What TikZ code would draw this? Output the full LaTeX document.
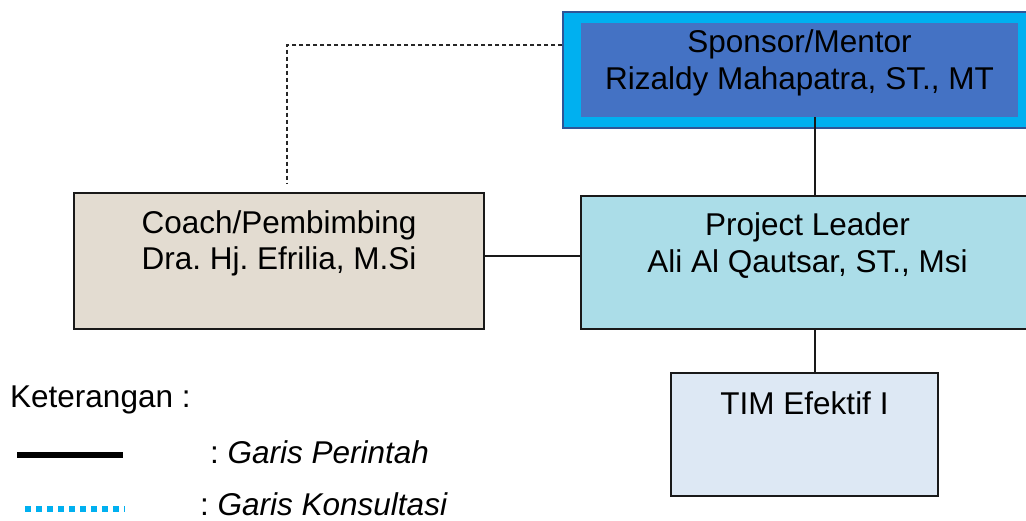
\documentclass[tikz,border=0pt]{standalone}
\usepackage{fontspec}
\setmainfont{Liberation Sans}
\usepackage{xcolor}
\usetikzlibrary{positioning}
\frenchspacing

\definecolor{sponsorcyan}{HTML}{00B0F0}
\definecolor{sponsorblue}{HTML}{4472C4}
\definecolor{sponsorline}{HTML}{2F5597}
\definecolor{coachfill}{HTML}{E3DCD1}
\definecolor{leadfill}{HTML}{ABDDE8}
\definecolor{timfill}{HTML}{DDE8F4}

\tikzset{
    orgbox/.style={rectangle,draw=black!90,line width=2pt,inner sep=0pt},
    boxtext/.style={anchor=north,inner sep=0pt,align=center},
    cmdline/.style={draw=black!90,line width=1.6pt},
    consultline/.style={draw=black!85,line width=1.3pt,dash pattern=on 4pt off 3pt},
    legendtext/.style={anchor=base west,inner sep=0pt}
}

\begin{document}
\begin{tikzpicture}[x=1pt,y=-1pt,font=\fontsize{31.5}{36.5}\selectfont]
            \useasboundingbox (0,0) rectangle (1026,521);
            \node[rectangle,fill=sponsorcyan,draw=sponsorline,line width=1.5pt,minimum width=473pt,minimum height=116pt] (sponsor) at (799.5,70) {};
            \node[rectangle,fill=sponsorblue,minimum width=437pt,minimum height=94pt,
                label={[boxtext,yshift=-7pt]north:Sponsor/Mentor\\Rizaldy Mahapatra, ST., MT}] (mentor) at (799.5,70) {};
            \node[orgbox,fill=coachfill,minimum width=410pt,minimum height=136pt,
                label={[boxtext,yshift=-18pt]north:Coach/Pembimbing\\Dra. Hj. Efrilia, M.Si}] (coach) at (279,261) {};
            \node[orgbox,fill=leadfill,minimum width=453pt,minimum height=132.5pt,
                label={[boxtext,yshift=-17pt]north:Project Leader\\Ali Al Qautsar, ST., Msi}] (lead) at (807.5,262.75) {};
            \node[orgbox,fill=timfill,minimum width=267pt,minimum height=122pt,
                label={[boxtext,yshift=-19pt]north:TIM Efektif I}] (tim) at (804.5,434.5) {};
            \coordinate (spine) at (815,0);
            \coordinate (bend) at (287,45);
            \draw[cmdline] (mentor.south -| spine) -- (lead.north -| spine);
            \draw[cmdline] (lead.south -| spine) -- (tim.north -| spine);
            \draw[cmdline] ([yshift=5pt]coach.east) -- ([yshift=5pt]coach.east -| lead.west);
            \draw[consultline,shorten >=8pt] (sponsor.west |- bend) -- (bend) -- (coach.north -| bend);
            \node[legendtext] (keterangan) at (10,407) {Keterangan :};
            \coordinate (perintahA) at (17,455);
            \coordinate (perintahB) at (123,455);
            \coordinate (konsultasiA) at (25,509);
            \coordinate (konsultasiB) at (125,509);
            \draw[black,line width=6pt] (perintahA) -- (perintahB);
            \draw[sponsorcyan,line width=5.5pt,dash pattern=on 6pt off 5pt] (konsultasiA) -- (konsultasiB);
            \node[legendtext] (perintah) at (210,463) {: \textit{Garis Perintah}};
            \node[legendtext] (konsultasi) at (200,515) {: \textit{Garis Konsultasi}};
        \end{tikzpicture}
\end{document}
